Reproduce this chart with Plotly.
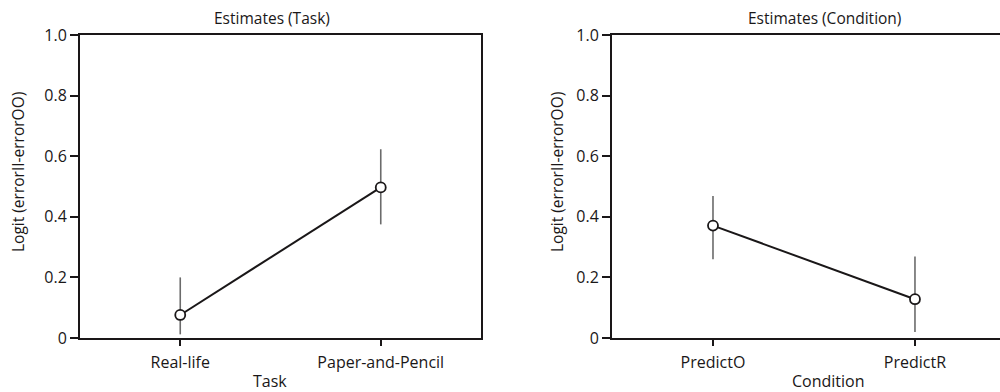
import plotly.graph_objects as go

task_labels = ["Real-life", "Paper-and-Pencil"]
task_means = [0.076, 0.497]
task_err_plus = [0.124, 0.126]
task_err_minus = [0.064, 0.122]

cond_labels = ["PredictO", "PredictR"]
cond_means = [0.371, 0.128]
cond_err_plus = [0.098, 0.141]
cond_err_minus = [0.111, 0.108]

y_ticks = [0, 0.2, 0.4, 0.6, 0.8, 1.0]
y_ticktext = ["0", "0.2", "0.4", "0.6", "0.8", "1.0"]

FONT = "Open Sans"
INK = "#1a1718"

fig = go.Figure()

def add_series(labels, means, ep, em, xa, ya):
    fig.add_trace(go.Scatter(
        x=list(range(len(labels))), y=means, mode="lines+markers",
        xaxis=xa, yaxis=ya, showlegend=False,
        line=dict(color=INK, width=2),
        marker=dict(symbol="circle", size=10, color="white", line=dict(color=INK, width=1.8)),
        error_y=dict(type="data", symmetric=False, array=ep, arrayminus=em,
                     color="#6b6b6b", thickness=1.6, width=0),
    ))

add_series(task_labels, task_means, task_err_plus, task_err_minus, "x", "y")
add_series(cond_labels, cond_means, cond_err_plus, cond_err_minus, "x2", "y2")

ybot = 1 - 338 / 392
ytop = 1 - 35 / 392

common_y = dict(range=[0, 1], tickvals=y_ticks, ticktext=y_ticktext, showgrid=False,
                zeroline=False, showline=True, linecolor=INK, linewidth=2,
                ticks="outside", ticklen=8, tickwidth=1.5, tickcolor=INK,
                ticklabelstandoff=0, automargin=False,
                tickfont=dict(family=FONT, size=16, color=INK),
                domain=[ybot, ytop])
common_x = dict(showgrid=False, zeroline=False, showline=True, linecolor=INK, linewidth=2,
                ticks="outside", ticklen=6, tickwidth=1.5, tickcolor=INK,
                ticklabelstandoff=3, automargin=False,
                tickfont=dict(family=FONT, size=16, color=INK))

fig.update_layout(
    template="none",
    width=1000, height=392, margin=dict(l=0, r=0, t=0, b=0, autoexpand=False),
    paper_bgcolor="white", plot_bgcolor="white",
    xaxis=dict(common_x, domain=[0.080, 0.481], range=[-0.5, 1.5], mirror=True,
               tickvals=[0, 1], ticktext=task_labels),
    yaxis=dict(common_y, anchor="x", mirror=True),
    xaxis2=dict(common_x, domain=[0.612, 1.0], range=[-0.5, 1.421], mirror=True,
                tickvals=[0, 1], ticktext=cond_labels, anchor="y2"),
    yaxis2=dict(common_y, anchor="x2", mirror=False),
)

def ann(text, x, y, size=16, angle=0):
    fig.add_annotation(text=text, x=x, y=y, xref="paper", yref="paper",
                       showarrow=False, textangle=angle,
                       font=dict(family=FONT, size=size, color=INK),
                       xanchor="center", yanchor="middle")

ann("Estimates (Task)", 272 / 1000, 1 - 18 / 392, size=15.5)
ann("Estimates (Condition)", 824 / 1000, 1 - 18 / 392, size=15.5)
ann("Task", 270 / 1000, 1 - 381 / 392)
ann("Condition", 828 / 1000, 1 - 381 / 392)
ann("Logit (errorII-errorOO)", 18 / 1000, 1 - 172 / 392, size=15.5, angle=-90)
ann("Logit (errorII-errorOO)", 557 / 1000, 1 - 172 / 392, size=15.5, angle=-90)

fig.write_html("out.html")
